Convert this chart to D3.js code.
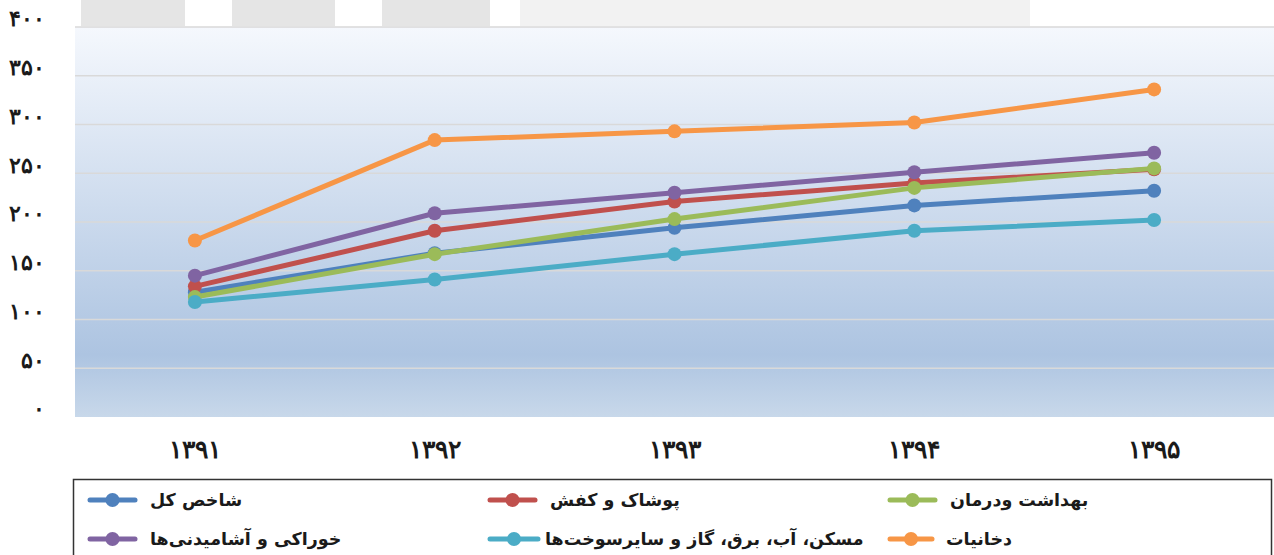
<!DOCTYPE html>
<html>
<head>
<meta charset="utf-8">
<script src="https://cdn.jsdelivr.net/npm/d3@7"></script>
<style>
  body { margin: 0; background: #fff; }
  svg { display: block; font-family: "DejaVu Sans", sans-serif; }
</style>
</head>
<body>
<svg id="chart" width="1274" height="555"></svg>
<script>
const years = ['۱۳۹۱', '۱۳۹۲', '۱۳۹۳', '۱۳۹۴', '۱۳۹۵'];
const yTicks = [0, 50, 100, 150, 200, 250, 300, 350, 400];

const seriesNames = [
  'شاخص کل',
  'پوشاک و کفش',
  'بهداشت ودرمان',
  'خوراکی و آشامیدنی‌ها',
  'مسکن، آب، برق، گاز و سایرسوخت‌ها',
  'دخانیات'
];
const seriesColors = ['#4f81bd', '#c0504d', '#9bbb59', '#8064a2', '#4bacc6', '#f79646'];

const totalIndex = [128, 168, 194, 217, 232];
const clothing = [134, 191, 221, 240, 254];
const health = [123, 167, 203, 235, 255];
const food = [145, 209, 230, 251, 271];
const housing = [118, 141, 167, 191, 202];
const tobacco = [181, 284, 293, 302, 336];

const seriesValues = [totalIndex, clothing, health, food, housing, tobacco];

const toFa = n => String(n).replace(/\d/g, d => '۰۱۲۳۴۵۶۷۸۹'[d]);

const svg = d3.select('#chart');
const margin = { top: 27, right: 0, bottom: 138, left: 75 };
const width = 1274, height = 555;

// faint decorative band above the plot
const band = svg.append('g');
[[81, 104, '#e5e5e5'], [232, 103, '#e5e5e5'], [382, 108, '#e5e5e5'], [520, 510, '#f2f2f2']]
  .forEach(([x, w, c]) => band.append('rect').attr('x', x).attr('y', 0).attr('width', w).attr('height', 26).attr('fill', c));

const x = d3.scaleBand().domain(years).range([margin.left, width - margin.right]);
const y = d3.scaleLinear().domain([0, 400]).range([height - margin.bottom, margin.top]);

const defs = svg.append('defs');
const grad = defs.append('linearGradient').attr('id', 'bg').attr('x1', 0).attr('y1', 0).attr('x2', 0).attr('y2', 1);
grad.append('stop').attr('offset', '0%').attr('stop-color', '#f5f8fd');
grad.append('stop').attr('offset', '84%').attr('stop-color', '#adc4e1');
grad.append('stop').attr('offset', '100%').attr('stop-color', '#c8d8ea');

svg.append('rect')
  .attr('x', margin.left).attr('y', margin.top)
  .attr('width', width - margin.left - margin.right)
  .attr('height', y(0) - y(400))
  .attr('fill', 'url(#bg)');

// gridlines
svg.append('g')
  .selectAll('line')
  .data(yTicks.filter(d => d > 0))
  .enter().append('line')
  .attr('x1', margin.left).attr('x2', width - margin.right)
  .attr('y1', d => y(d)).attr('y2', d => y(d))
  .attr('stroke', '#d9d9d9').attr('stroke-width', 1.5);

// y axis labels
const yAxis = svg.append('g')
  .attr('transform', `translate(${margin.left},0)`)
  .call(d3.axisLeft(y).tickValues(yTicks).tickSize(0).tickPadding(30).tickFormat(toFa));
yAxis.select('.domain').remove();
yAxis.selectAll('text')
  .attr('dy', '-0.05em')
  .style('font-size', '22px').style('font-weight', 'bold').attr('fill', '#1a1a1a');

// x axis labels
const xAxis = svg.append('g')
  .attr('transform', `translate(0,${y(0)})`)
  .call(d3.axisBottom(x).tickSize(0).tickPadding(23));
xAxis.select('.domain').remove();
xAxis.selectAll('text')
  .style('font-size', '25px').style('font-weight', 'bold').attr('fill', '#1a1a1a');

// lines and markers
const line = d3.line()
  .x((d, i) => x(years[i]) + x.bandwidth() / 2)
  .y(d => y(d));

seriesValues.forEach((vals, s) => {
  const g = svg.append('g');
  g.append('path')
    .datum(vals)
    .attr('d', line)
    .attr('fill', 'none')
    .attr('stroke', seriesColors[s])
    .attr('stroke-width', 5)
    .attr('stroke-linejoin', 'round')
    .attr('stroke-linecap', 'round');
  g.selectAll('circle')
    .data(vals)
    .enter().append('circle')
    .attr('cx', (d, i) => x(years[i]) + x.bandwidth() / 2)
    .attr('cy', d => y(d))
    .attr('r', 7)
    .attr('fill', seriesColors[s]);
});

// legend
const legend = svg.append('g');
legend.append('rect')
  .attr('x', 73.5).attr('y', 479.5)
  .attr('width', 1198).attr('height', 90)
  .attr('fill', 'none').attr('stroke', '#333').attr('stroke-width', 1.5);

const legendPos = [
  [90, 500], [490, 500], [890, 500],
  [90, 539], [490, 539], [890, 539]
];
const textX = [150, 550, 950, 150, 545, 946];

seriesNames.forEach((name, s) => {
  const [lx, ly] = legendPos[s];
  const lineEnd = s === 4 ? 538 : (s === 5 ? 932 : lx + 45);
  legend.append('line')
    .attr('x1', lx).attr('x2', lineEnd)
    .attr('y1', ly).attr('y2', ly)
    .attr('stroke', seriesColors[s]).attr('stroke-width', 5).attr('stroke-linecap', 'round');
  legend.append('circle')
    .attr('cx', (lx + lineEnd) / 2).attr('cy', ly).attr('r', 7)
    .attr('fill', seriesColors[s]);
  legend.append('text')
    .attr('x', textX[s]).attr('y', ly + 6)
    .attr('direction', 'rtl')
    .attr('text-anchor', 'end')
    .style('font-size', '17.5px').style('font-weight', 'bold').attr('fill', '#1a1a1a')
    .text(name);
});
</script>
</body>
</html>
